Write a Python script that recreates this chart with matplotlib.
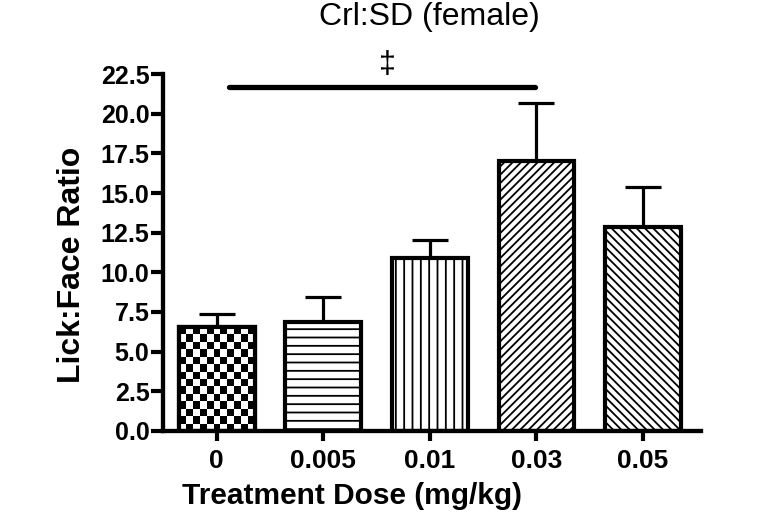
import matplotlib
matplotlib.use('Agg')
import matplotlib.pyplot as plt
import numpy as np

plt.rcParams['font.family'] = ['Liberation Sans', 'DejaVu Sans']
plt.rcParams['hatch.linewidth'] = 1.3

# Data
doses = ['0', '0.005', '0.01', '0.03', '0.05']
means = [6.54, 6.84, 10.9, 17.0, 12.87]
sems = [0.82, 1.58, 1.13, 3.66, 2.49]
hatches = [None, '--', '||', '////', '\\\\\\\\']   # first bar is checkered
yticks = [0.0, 2.5, 5.0, 7.5, 10.0, 12.5, 15.0, 17.5, 20.0, 22.5]

# significance bracket: between dose 0 and dose 0.03
sig_start, sig_end, sig_y = 0.12, 2.99, 21.7
sig_mark = '\u2021'

fig = plt.figure(figsize=(7.6, 5.19), dpi=100)
ax = fig.add_axes([0.215, 0.170, 0.708, 0.687])

x = np.arange(len(doses))
width = 0.71
bars = ax.bar(x, means, width=width, color='white', edgecolor='black',
              linewidth=3, zorder=2)
for b, h in zip(bars, hatches):
    if h:
        b.set_hatch(h)

ax.set_xlim(-0.5, 4.55)
ax.set_ylim(0, 22.5)

# checkerboard fill for the control bar
b0 = bars[0]
fig.canvas.draw()
p0 = ax.transData.transform((b0.get_x(), 0))
p1 = ax.transData.transform((b0.get_x() + b0.get_width(), b0.get_height()))
cell = 7.2
ncol = max(1, int(round((p1[0] - p0[0]) / cell)))
nrow = max(1, int(round((p1[1] - p0[1]) / cell)))
checker = (np.add.outer(np.arange(nrow), np.arange(ncol)) % 2).astype(float)
im = ax.imshow(checker, cmap='gray', interpolation='nearest', aspect='auto',
               extent=(b0.get_x(), b0.get_x() + b0.get_width(), 0, b0.get_height()),
               zorder=2.5)
im.set_clip_path(b0)
# redraw the outline on top
ax.bar([x[0]], [means[0]], width=width, fill=False, edgecolor='black',
       linewidth=3, zorder=3)
ax.set_xlim(-0.5, 4.55)
ax.set_ylim(0, 22.5)

# upper error bars only
ax.errorbar(x, means, yerr=[np.zeros(len(means)), sems], fmt='none',
            ecolor='black', elinewidth=2.3, capsize=13, capthick=2.3, zorder=1)

# significance line and mark
ax.plot([sig_start, sig_end], [sig_y, sig_y], color='black', lw=3.8,
        solid_capstyle='round', clip_on=False, zorder=4)
ax.text(1.606, 23.1, sig_mark, ha='center', va='center', fontsize=22,
        clip_on=False)

# axes styling
for s in ['top', 'right']:
    ax.spines[s].set_visible(False)
for s in ['left', 'bottom']:
    ax.spines[s].set_linewidth(3.1)
ax.set_xticks(x)
ax.set_xticklabels(doses, fontsize=19, fontweight='bold')
ax.set_yticks(yticks)
ax.set_yticklabels([f'{v:.1f}' for v in yticks], fontsize=18, fontweight='bold')
ax.tick_params(axis='y', length=8.5, width=3, pad=1.5)
ax.tick_params(axis='x', length=7, width=3, pad=6)

fig.text(429 / 760, 1 - 17 / 519, 'Crl:SD (female)', ha='center', va='center',
         fontsize=23)
fig.text(352 / 760, 1 - 496 / 519, 'Treatment Dose (mg/kg)', ha='center',
         va='center', fontsize=21.5, fontweight='bold')
fig.text(72 / 760, 1 - 265 / 519, 'Lick:Face Ratio', ha='center', va='center',
         rotation=90, fontsize=23, fontweight='bold')

fig.savefig('out.png', dpi=100)
plt.close(fig)
